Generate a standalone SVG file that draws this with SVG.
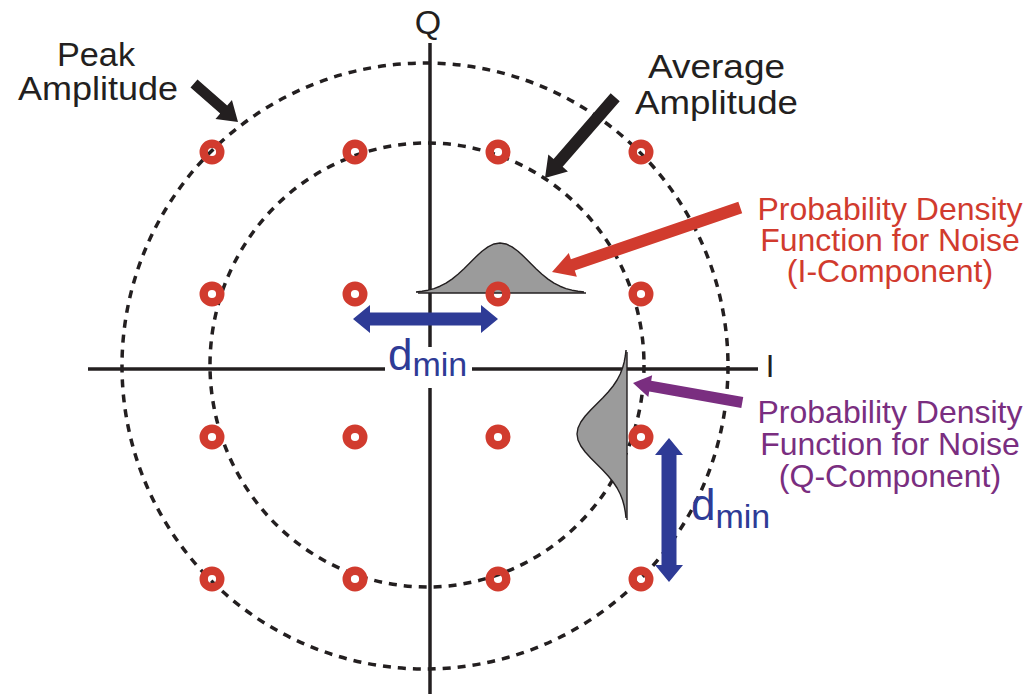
<svg xmlns="http://www.w3.org/2000/svg" width="1024" height="694" viewBox="0 0 1024 694">
<style>
.axis{stroke:#231f20;stroke-width:3.5;fill:none}
.dash{stroke:#231f20;stroke-width:3.5;fill:none;stroke-dasharray:8 7}
.pt{fill:none;stroke:#d13b2e;stroke-width:8.4}
.gfill{fill:#9b9b9b;stroke:none}
.gline{fill:none;stroke:#231f20;stroke-width:1.4;stroke-linejoin:round}
.lbl{font-family:"Liberation Sans",Arial,sans-serif;fill:#231f20}
.red{font-family:"Liberation Sans",Arial,sans-serif;fill:#d13b2e;font-size:32px;text-anchor:middle}
.pur{font-family:"Liberation Sans",Arial,sans-serif;fill:#7a2e80;font-size:32px;text-anchor:middle}
.blue{font-family:"Liberation Sans",Arial,sans-serif;fill:#2e3b96}
</style>
<defs>
<path id="gcurve" d="M-84,-1 L-78,-1.7 L-72,-2.8 L-66,-4.45 L-60,-6.77 L-54,-9.9 L-48,-13.9 L-42,-18.77 L-36,-24.34 L-30,-30.33 L-24,-36.31 L-18,-41.76 L-12,-46.16 L-6,-49.01 L0,-50 L6,-49.01 L12,-46.16 L18,-41.76 L24,-36.31 L30,-30.33 L36,-24.34 L42,-18.77 L48,-13.9 L54,-9.9 L60,-6.77 L66,-4.45 L72,-2.8 L78,-1.7 L84,-1"/>
</defs>
<g id="axes">
<line class="axis" x1="88" y1="369" x2="385" y2="369"/>
<line class="axis" x1="472" y1="369" x2="758" y2="369"/>
<line class="axis" x1="430" y1="43" x2="430" y2="347"/>
<line class="axis" x1="430" y1="388" x2="430" y2="694"/>
</g>
<g id="circles">
<circle class="dash" cx="425" cy="366" r="303"/>
<ellipse class="dash" cx="427" cy="365" rx="217" ry="222"/>
</g>
<g id="pdf-i">
<g transform="translate(500,293)">
<path class="gfill" d="M-84,0 L-84,-1 L-78,-1.7 L-72,-2.8 L-66,-4.45 L-60,-6.77 L-54,-9.9 L-48,-13.9 L-42,-18.77 L-36,-24.34 L-30,-30.33 L-24,-36.31 L-18,-41.76 L-12,-46.16 L-6,-49.01 L0,-50 L6,-49.01 L12,-46.16 L18,-41.76 L24,-36.31 L30,-30.33 L36,-24.34 L42,-18.77 L48,-13.9 L54,-9.9 L60,-6.77 L66,-4.45 L72,-2.8 L78,-1.7 L84,-1 L84,0 Z"/>
<use href="#gcurve" class="gline"/>
<line class="gline" x1="-82" y1="0" x2="86" y2="0"/>
</g>
</g>
<g id="pdf-q">
<g transform="matrix(0,1,1,0,627,434)">
<path class="gfill" d="M-84,0 L-84,-1 L-78,-1.7 L-72,-2.8 L-66,-4.45 L-60,-6.77 L-54,-9.9 L-48,-13.9 L-42,-18.77 L-36,-24.34 L-30,-30.33 L-24,-36.31 L-18,-41.76 L-12,-46.16 L-6,-49.01 L0,-50 L6,-49.01 L12,-46.16 L18,-41.76 L24,-36.31 L30,-30.33 L36,-24.34 L42,-18.77 L48,-13.9 L54,-9.9 L60,-6.77 L66,-4.45 L72,-2.8 L78,-1.7 L84,-1 L84,0 Z"/>
<use href="#gcurve" class="gline"/>
<line class="gline" x1="-82" y1="0" x2="86" y2="0"/>
</g>
</g>
<g id="points">
<circle class="pt" cx="212" cy="152" r="8.3"/>
<circle class="pt" cx="355" cy="152" r="8.3"/>
<circle class="pt" cx="498" cy="152" r="8.3"/>
<circle class="pt" cx="641" cy="152" r="8.3"/>
<circle class="pt" cx="212" cy="294" r="8.3"/>
<circle class="pt" cx="355" cy="294" r="8.3"/>
<circle class="pt" cx="498" cy="294" r="8.3"/>
<circle class="pt" cx="641" cy="294" r="8.3"/>
<circle class="pt" cx="212" cy="437" r="8.3"/>
<circle class="pt" cx="355" cy="437" r="8.3"/>
<circle class="pt" cx="498" cy="437" r="8.3"/>
<circle class="pt" cx="641" cy="437" r="8.3"/>
<circle class="pt" cx="212" cy="579" r="8.3"/>
<circle class="pt" cx="355" cy="579" r="8.3"/>
<circle class="pt" cx="498" cy="579" r="8.3"/>
<circle class="pt" cx="641" cy="579" r="8.3"/>
</g>
<g id="connectors">
<polygon fill="#231f20" transform="translate(238,122) rotate(41.2)" points="0,0 -19,-12.5 -19,-5.3 -58.5,-5.3 -58.5,5.3 -19,5.3 -19,12.5"/>
<polygon fill="#231f20" transform="translate(545,178) rotate(131)" points="0,0 -20,-13 -20,-6 -107,-6 -107,6 -20,6 -20,13"/>
<polygon fill="#d13b2e" transform="translate(552,272) rotate(161.1)" points="0,0 -22,-12.5 -22,-6 -199,-6 -199,6 -22,6 -22,12.5"/>
<polygon fill="#7a2e80" transform="translate(633,383) rotate(190.1)" points="0,0 -17.5,-11 -17.5,-5.5 -111,-5.5 -111,5.5 -17.5,5.5 -17.5,11"/>
<polygon fill="#2e3b96" points="353,319 370,305 370,312.5 481,312.5 481,305 498,319 481,333 481,325.5 370,325.5 370,333"/>
<polygon fill="#2e3b96" points="669,438 683,455 676.5,455 676.5,565 683,565 669,582 655,565 661.5,565 661.5,455 655,455"/>
</g>
<g id="labels">
<text class="lbl" x="428" y="34" font-size="34" text-anchor="middle">Q</text>
<text class="lbl" x="770" y="377" font-size="31" text-anchor="middle">I</text>
<text class="lbl" x="57" y="66" font-size="34" textLength="78" lengthAdjust="spacingAndGlyphs">Peak</text>
<text class="lbl" x="18" y="100" font-size="34" textLength="160" lengthAdjust="spacingAndGlyphs">Amplitude</text>
<text class="lbl" x="648" y="78" font-size="34" textLength="137" lengthAdjust="spacingAndGlyphs">Average</text>
<text class="lbl" x="635" y="114" font-size="34" textLength="163" lengthAdjust="spacingAndGlyphs">Amplitude</text>
<text class="red" x="890" y="220">Probability Density</text>
<text class="red" x="890" y="251">Function for Noise</text>
<text class="red" x="890" y="282">(I-Component)</text>
<text class="pur" x="890" y="423">Probability Density</text>
<text class="pur" x="890" y="455">Function for Noise</text>
<text class="pur" x="890" y="487">(Q-Component)</text>
<text class="blue" x="388" y="370" font-size="44">d<tspan font-size="34" dy="6">min</tspan></text>
<text class="blue" x="691" y="520" font-size="44">d<tspan font-size="34" dy="8">min</tspan></text>
</g>
</svg>
